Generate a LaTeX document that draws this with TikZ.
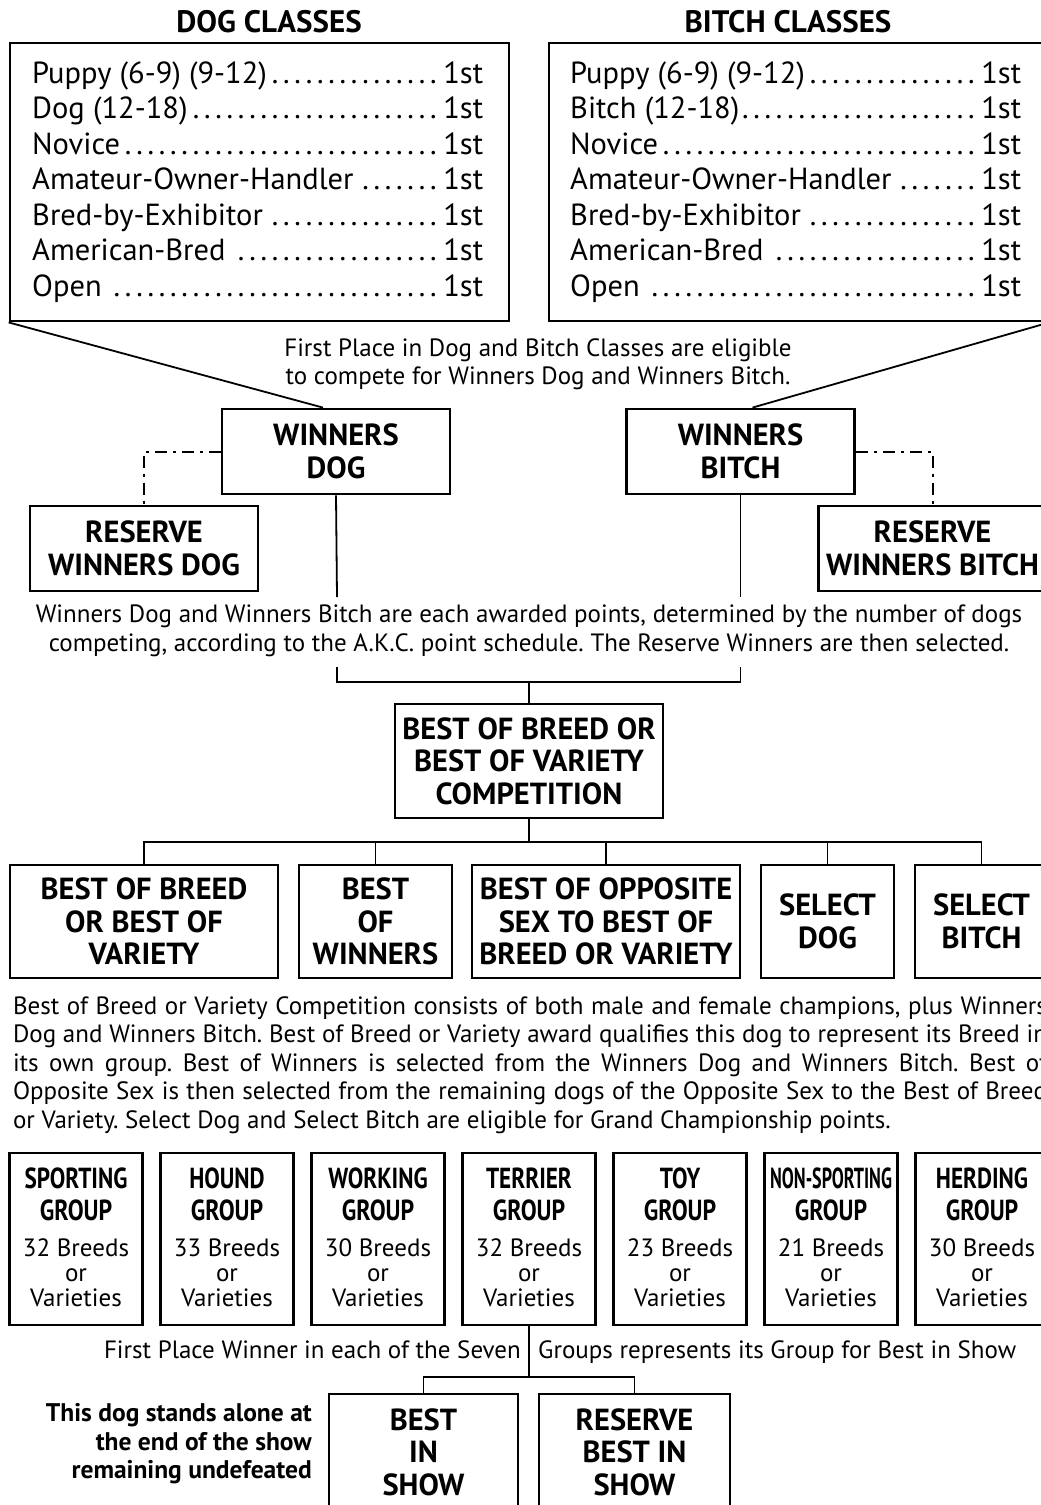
\documentclass[tikz,border=0pt]{standalone}
\usepackage{fontspec}
\setmainfont{PT Sans}
\usetikzlibrary{positioning,calc}
\frenchspacing

\newcommand{\dotrow}{\leaders\hbox to 11.3pt{\hss.\hss}\hfill}
\newcommand{\classline}[1]{\hbox to 451pt{#1\dotrow 1st}}
\newcommand{\fullline}[1]{\makebox[1034pt][s]{#1}}

\tikzset{
  box/.style={draw, line width=2.8pt, inner sep=0pt, align=center,
    font=\fontsize{30.5}{32.5}\selectfont\bfseries},
  listbox/.style={draw, line width=2.8pt, inner sep=0pt},
  title/.style={inner sep=0pt, font=\fontsize{31}{34}\selectfont\bfseries},
  row/.style={anchor=base west, inner sep=0pt, font=\fontsize{30.5}{34}\selectfont},
  link/.style={line width=1.8pt},
  dashlink/.style={line width=2pt, dash pattern=on 12pt off 6pt on 3pt off 6pt},
  note/.style={inner sep=0pt, align=center, font=\fontsize{25}{28.5}\selectfont},
  grptitle/.style={inner sep=0pt, align=center, font=\fontsize{29}{32}\selectfont\bfseries},
  grpsub/.style={inner sep=0pt, align=center, font=\fontsize{25}{25}\selectfont}
}

\begin{document}
\begin{tikzpicture}[x=1pt,y=-1pt]
\useasboundingbox (0,0) rectangle (1041,1505);

% class lists
\node[title] (dogtitle) at (269,22) {DOG CLASSES};
\node[title] (bitchtitle) at (788,22) {BITCH CLASSES};
\node[listbox, minimum width=499pt, minimum height=278pt] (dogcls) at (259.5,182) {};
\node[listbox, minimum width=499pt, minimum height=278pt] (bitchcls) at (798.5,182) {};
\foreach \lbl [count=\i] in {Puppy (6-9) (9-12), Dog (12-18), Novice,
    Amateur-Owner-Handler, Bred-by-Exhibitor, American-Bred, Open}
  \node[row] (drow\i) at (32,{83+35.5*(\i-1)}) {\classline{\lbl}};
\foreach \lbl [count=\i] in {Puppy (6-9) (9-12), Bitch (12-18), Novice,
    Amateur-Owner-Handler, Bred-by-Exhibitor, American-Bred, Open}
  \node[row] (brow\i) at (570,{83+35.5*(\i-1)}) {\classline{\lbl}};

\node[note] (eligible) at (538,364) {First Place in Dog and Bitch Classes are eligible\\
  to compete for Winners Dog and Winners Bitch.};

% winners
\node[box, minimum width=228pt, minimum height=85pt] (wdog) at (336,451.5) {WINNERS\\DOG};
\node[box, minimum width=228pt, minimum height=85pt] (wbitch) at (740.5,451.5) {WINNERS\\BITCH};
\node[box, minimum width=228pt, minimum height=85pt] (rdog) at (144,548.5) {RESERVE\\WINNERS DOG};
\node[box, minimum width=228pt, minimum height=85pt] (rbitch) at (932.5,548.5) {RESERVE\\WINNERS BITCH};
\draw[link] (dogcls.south west) -- ($(wdog.north)+(-13,0)$);
\draw[link] (bitchcls.south east) -- ($(wbitch.north)+(12,0)$);
\draw[dashlink] (wdog.west) -| (rdog.north);
\draw[dashlink] (wbitch.east) -| (rbitch.north);

\node[note] (points) at (529,631) {Winners Dog and Winners Bitch are each awarded points, determined by the number of dogs\\
  competing, according to the A.K.C. point schedule. The Reserve Winners are then selected.};

\coordinate (wdogend) at (337,597);
\coordinate (wbitchend) at (740.5,597);
\coordinate (wdogup) at (337,667);
\coordinate (wbitchup) at (740.5,667);
\coordinate (bar1) at (529,682);
\draw[link] (wdog.south) -- (wdogend);
\draw[link] (wbitch.south) -- (wbitchend);
\draw[link] (wdogup) |- (bar1) -| (wbitchup);

% best of breed
\node[box, minimum width=268pt, minimum height=114pt] (bobc) at (529,761)
  {BEST OF BREED OR\\BEST OF VARIETY\\COMPETITION};
\draw[link] (bar1) -- (bobc.north);

\node[box, minimum width=268pt, minimum height=113pt] (bob) at (144,921.5)
  {BEST OF BREED\\OR BEST OF\\VARIETY};
\node[box, minimum width=153pt, minimum height=113pt] (bow) at (375.5,921.5)
  {BEST\\OF\\WINNERS};
\node[box, minimum width=268pt, minimum height=113pt] (bos) at (606,921.5)
  {BEST OF OPPOSITE\\SEX TO BEST OF\\BREED OR VARIETY};
\node[box, minimum width=133pt, minimum height=113pt] (seldog) at (827.5,921.5)
  {SELECT\\DOG};
\node[box, minimum width=133pt, minimum height=113pt] (selbitch) at (981.5,921.5)
  {SELECT\\BITCH};
\coordinate (bar2) at (529,842);
\draw[link] (bobc.south) -- (bar2);
\foreach \b in {bob,bow,bos,seldog,selbitch}
  \draw[link] (bar2) -| (\b.north);

\node[note, align=left] (rules) at (530,1065)
  {\fullline{Best of Breed or Variety Competition consists of both male and female champions, plus Winners}\\
  \fullline{Dog and Winners Bitch. Best of Breed or Variety award qualifies this dog to represent its Breed in}\\
  \fullline{its own group. Best of Winners is selected from the Winners Dog and Winners Bitch. Best of}\\
  \fullline{Opposite Sex is then selected from the remaining dogs of the Opposite Sex to the Best of Breed}\\
  or Variety. Select Dog and Select Bitch are eligible for Grand Championship points.};

% groups
\foreach \grp/\n/\sc [count=\i] in {SPORTING/32/0.8, HOUND/33/0.8, WORKING/30/0.8,
    TERRIER/32/0.8, TOY/23/0.8, NON-SPORTING/21/0.62, HERDING/30/0.8} {
  \node[box, minimum width=133pt, minimum height=172pt] (g\i) at ({76+151*(\i-1)},1239) {};
  \node[grptitle] (gt\i) at ({76+151*(\i-1)},1194)
    {\scalebox{\sc}[1]{\grp}\\\scalebox{0.82}[1]{GROUP}};
  \node[grpsub] (gs\i) at ({76+151*(\i-1)},1273) {\n\ Breeds\\or\\Varieties};
}

\node[note, anchor=base east] (firstl) at (521,1358) {First Place Winner in each of the Seven};
\node[note, anchor=base west] (firstr) at (538,1358) {Groups represents its Group for Best in Show};

% best in show
\node[box, minimum width=189pt, minimum height=116pt] (bis) at (423.5,1452) {BEST\\IN\\SHOW};
\node[box, minimum width=191pt, minimum height=116pt] (rbis) at (634.5,1452) {RESERVE\\BEST IN\\SHOW};
\coordinate (bar3) at (529,1377);
\draw[link] (g4.south) -- (bar3);
\draw[link] (bis.north) |- (bar3) -| (rbis.north);

\node[note, anchor=east, align=right, font=\fontsize{25.5}{28.5}\selectfont\bfseries] (alone) at (312,1444)
  {This dog stands alone at\\the end of the show\\remaining undefeated};
\end{tikzpicture}
\end{document}
